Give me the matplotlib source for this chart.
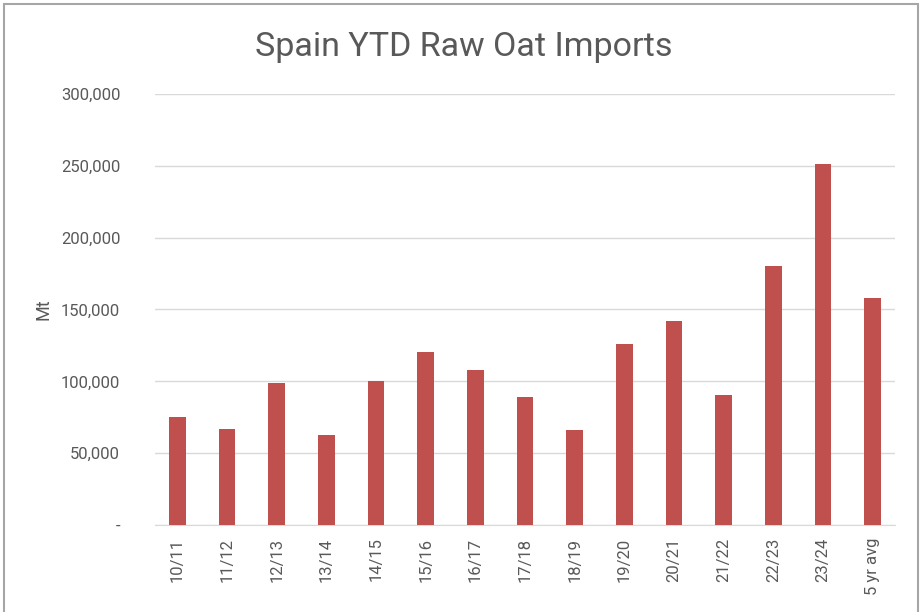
import matplotlib.pyplot as plt
from matplotlib.patches import Rectangle
from matplotlib.ticker import FuncFormatter

# marketing years and YTD imports (Mt)
seasons = ["10/11", "11/12", "12/13", "13/14", "14/15", "15/16", "16/17", "17/18",
           "18/19", "19/20", "20/21", "21/22", "22/23", "23/24", "5 yr avg"]
imports = [75200, 66800, 98800, 62600, 100200, 120400, 107900, 89100,
           66100, 126000, 142000, 90500, 180300, 251300, 158000]

plt.rcParams['font.family'] = ['Roboto', 'DejaVu Sans']

fig = plt.figure(figsize=(9.22, 6.12), dpi=100)
ax = fig.add_axes([155 / 922, 1 - 525 / 612, 740 / 922, 431 / 612])

ax.bar(range(len(seasons)), imports, width=0.33, color='#C0504D', zorder=3)

ax.set_ylim(0, 300000)
ax.set_xlim(-0.45, len(seasons) - 0.55)
ax.set_yticks(range(0, 300001, 50000))
ax.yaxis.set_major_formatter(FuncFormatter(lambda v, p: '-' if v == 0 else f'{int(v):,}'))
ax.set_xticks(range(len(seasons)))
ax.set_xticklabels(seasons, rotation=90)

ax.grid(axis='y', color='#d9d9d9', linewidth=1, zorder=0)
for s in ['top', 'right', 'left']:
    ax.spines[s].set_visible(False)
ax.spines['bottom'].set_color('#d9d9d9')
ax.tick_params(axis='both', length=0, labelsize=12, labelcolor='#595959')
ax.tick_params(axis='y', pad=25)
ax.tick_params(axis='x', pad=9)

ax.set_ylabel('Mt', fontsize=13, color='#595959', labelpad=6)

fig.text(0.503, 1 - 56 / 612, 'Spain YTD Raw Oat Imports', ha='center', va='baseline',
         fontsize=24.5, color='#595959')

# chart frame
fig.patches.append(Rectangle((4 / 922, -0.1), 914 / 922, 1.1 - 4 / 612,
                             transform=fig.transFigure, fill=False,
                             edgecolor='#a6a6a6', linewidth=1.5))

fig.savefig('out.png', dpi=100)
